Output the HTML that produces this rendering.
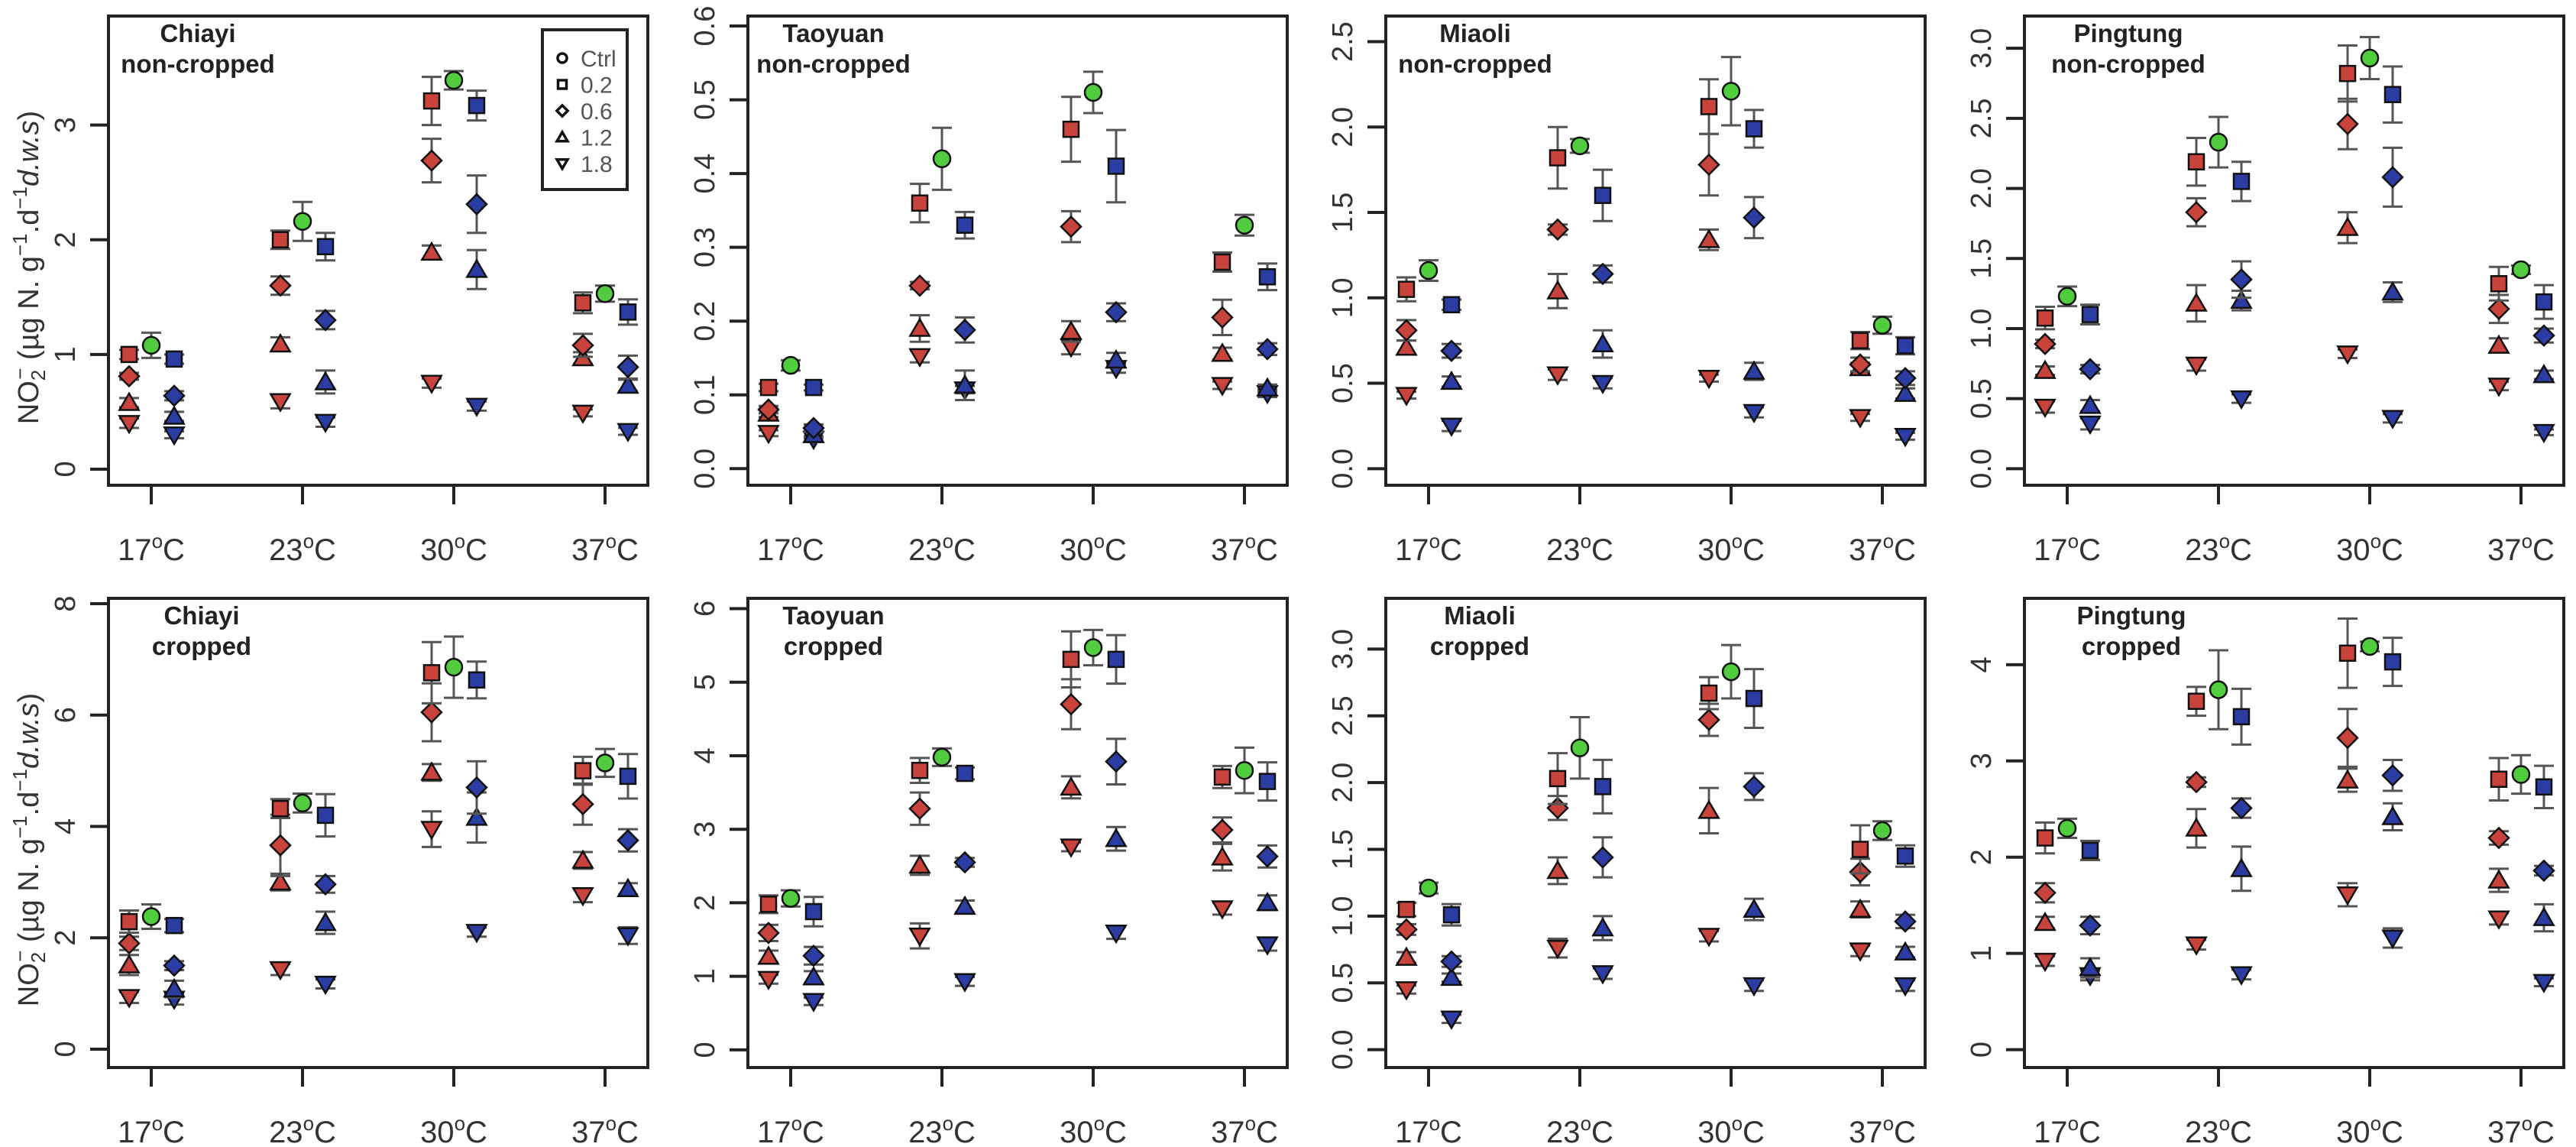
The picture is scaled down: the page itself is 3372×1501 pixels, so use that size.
<!DOCTYPE html>
<html><head><meta charset="utf-8"><title>NO2- production by temperature</title>
<style>
html,body{margin:0;padding:0;background:#fff;}
svg{display:block;font-family:"Liberation Sans",Arial,sans-serif;}
</style></head>
<body>
<svg id="fig" width="3372" height="1501" viewBox="0 0 3372 1501" xmlns="http://www.w3.org/2000/svg"></svg>
<script>
// ---------- data ----------
const temps = ["17", "23", "30", "37"];
const doses = ["0.2", "0.6", "1.2", "1.8"];
const legendLabels = ["Ctrl", "0.2", "0.6", "1.2", "1.8"];
const panelNames = ["chiayi-non-cropped","taoyuan-non-cropped","miaoli-non-cropped","pingtung-non-cropped","chiayi-cropped","taoyuan-cropped","miaoli-cropped","pingtung-cropped"];
const titleLine1 = ["Chiayi","Taoyuan","Miaoli","Pingtung","Chiayi","Taoyuan","Miaoli","Pingtung"];
const titleLine2 = ["non-cropped","non-cropped","non-cropped","non-cropped","cropped","cropped","cropped","cropped"];
const yTicks = [
  ["0","1","2","3"],
  ["0.0","0.1","0.2","0.3","0.4","0.5","0.6"],
  ["0.0","0.5","1.0","1.5","2.0","2.5"],
  ["0.0","0.5","1.0","1.5","2.0","2.5","3.0"],
  ["0","2","4","6","8"],
  ["0","1","2","3","4","5","6"],
  ["0.0","0.5","1.0","1.5","2.0","2.5","3.0"],
  ["0","1","2","3","4"]
];
const yMin = [-0.14, -0.0225, -0.097, -0.118, -0.33, -0.24, -0.134, -0.186];
const yMax = [3.95, 0.6135, 2.65, 3.23, 8.096, 6.14, 3.38, 4.69];

// panel 1 Chiayi non-cropped
const p1Ctrl = [1.08,2.16,3.39,1.53];
const p1CtrlErr = [0.11,0.17,0.08,0.07];
const p1Red = [[1.0,2.0,3.21,1.45],[0.81,1.6,2.69,1.08],[0.58,1.09,1.89,0.97],[0.40,0.59,0.75,0.49]];
const p1RedErr = [[0.04,0.08,0.21,0.09],[0.03,0.08,0.19,0.1],[0.04,0.06,0.06,0.05],[0.04,0.06,0.04,0.03]];
const p1Blue = [[0.96,1.94,3.17,1.37],[0.64,1.3,2.31,0.89],[0.46,0.76,1.74,0.73],[0.30,0.41,0.55,0.33]];
const p1BlueErr = [[0.04,0.12,0.13,0.11],[0.04,0.08,0.25,0.1],[0.04,0.1,0.17,0.05],[0.03,0.04,0.04,0.03]];
// panel 2 Taoyuan non-cropped
const p2Ctrl = [0.14,0.42,0.51,0.33];
const p2CtrlErr = [0.007,0.042,0.028,0.014];
const p2Red = [[0.11,0.36,0.46,0.28],[0.08,0.248,0.328,0.205],[0.075,0.19,0.186,0.156],[0.048,0.152,0.165,0.113]];
const p2RedErr = [[0.005,0.026,0.044,0.013],[0.005,0.005,0.021,0.024],[0.005,0.018,0.014,0.008],[0.004,0.008,0.01,0.005]];
const p2Blue = [[0.11,0.33,0.41,0.26],[0.055,0.188,0.212,0.162],[0.046,0.113,0.147,0.109],[0.04,0.107,0.136,0.102]];
const p2BlueErr = [[0.004,0.018,0.049,0.018],[0.005,0.017,0.012,0.008],[0.005,0.02,0.01,0.005],[0.004,0.005,0.006,0.005]];
// panel 3 Miaoli non-cropped
const p3Ctrl = [1.16,1.89,2.21,0.84];
const p3CtrlErr = [0.06,0.04,0.2,0.05];
const p3Red = [[1.05,1.82,2.12,0.75],[0.81,1.40,1.78,0.61],[0.71,1.04,1.34,0.59],[0.43,0.55,0.53,0.3]];
const p3RedErr = [[0.07,0.18,0.16,0.05],[0.06,0.03,0.18,0.04],[0.04,0.1,0.06,0.03],[0.02,0.03,0.02,0.02]];
const p3Blue = [[0.96,1.6,1.99,0.72],[0.69,1.14,1.47,0.53],[0.51,0.73,0.57,0.44],[0.25,0.5,0.33,0.19]];
const p3BlueErr = [[0.03,0.15,0.11,0.05],[0.04,0.05,0.12,0.04],[0.03,0.08,0.05,0.03],[0.03,0.03,0.03,0.02]];
// panel 4 Pingtung non-cropped
const p4Ctrl = [1.23,2.33,2.93,1.42];
const p4CtrlErr = [0.07,0.18,0.15,0.03];
const p4Red = [[1.075,2.19,2.82,1.32],[0.89,1.83,2.46,1.14],[0.70,1.18,1.72,0.88],[0.44,0.74,0.82,0.59]];
const p4RedErr = [[0.08,0.17,0.2,0.12],[0.03,0.1,0.18,0.1],[0.03,0.13,0.11,0.05],[0.04,0.04,0.03,0.03]];
const p4Blue = [[1.1,2.05,2.67,1.19],[0.71,1.35,2.08,0.95],[0.45,1.2,1.26,0.67],[0.32,0.5,0.36,0.26]];
const p4BlueErr = [[0.07,0.14,0.2,0.12],[0.03,0.13,0.21,0.05],[0.04,0.07,0.07,0.03],[0.04,0.03,0.03,0.02]];
// panel 5 Chiayi cropped
const p5Ctrl = [2.38,4.42,6.86,5.14];
const p5CtrlErr = [0.22,0.17,0.55,0.25];
const p5Red = [[2.29,4.32,6.76,5.0],[1.9,3.66,6.05,4.4],[1.51,3.0,4.97,3.39],[0.93,1.43,3.95,2.76]];
const p5RedErr = [[0.2,0.17,0.55,0.25],[0.12,0.55,0.52,0.37],[0.18,0.15,0.15,0.15],[0.1,0.1,0.32,0.12]];
const p5Blue = [[2.22,4.2,6.63,4.9],[1.5,2.96,4.7,3.75],[1.08,2.27,4.16,2.88],[0.9,1.17,2.1,2.04]];
const p5BlueErr = [[0.12,0.38,0.33,0.4],[0.08,0.15,0.47,0.2],[0.15,0.2,0.45,0.1],[0.1,0.08,0.08,0.15]];
// panel 6 Taoyuan cropped
const p6Ctrl = [2.06,3.98,5.47,3.8];
const p6CtrlErr = [0.11,0.12,0.24,0.31];
const p6Red = [[1.98,3.8,5.31,3.71],[1.59,3.28,4.7,2.99],[1.27,2.51,3.57,2.62],[0.96,1.55,2.76,1.92]];
const p6RedErr = [[0.12,0.17,0.38,0.15],[0.11,0.22,0.34,0.17],[0.08,0.13,0.15,0.18],[0.06,0.17,0.06,0.08]];
const p6Blue = [[1.88,3.76,5.31,3.65],[1.28,2.55,3.92,2.63],[0.99,1.95,2.87,2.0],[0.66,0.93,1.59,1.43]];
const p6BlueErr = [[0.2,0.08,0.33,0.26],[0.12,0.06,0.31,0.15],[0.08,0.08,0.16,0.1],[0.05,0.06,0.08,0.08]];
// panel 7 Miaoli cropped
const p7Ctrl = [1.21,2.26,2.83,1.64];
const p7CtrlErr = [0.04,0.23,0.2,0.07];
const p7Red = [[1.05,2.03,2.67,1.5],[0.9,1.81,2.47,1.33],[0.69,1.34,1.79,1.05],[0.45,0.76,0.85,0.74]];
const p7RedErr = [[0.05,0.19,0.12,0.18],[0.04,0.09,0.12,0.1],[0.04,0.1,0.17,0.06],[0.03,0.07,0.04,0.04]];
const p7Blue = [[1.01,1.97,2.63,1.45],[0.66,1.44,1.97,0.96],[0.54,0.91,1.05,0.73],[0.23,0.57,0.48,0.48]];
const p7BlueErr = [[0.08,0.2,0.22,0.08],[0.04,0.15,0.1,0.05],[0.03,0.09,0.08,0.04],[0.03,0.04,0.04,0.04]];
// panel 8 Pingtung cropped
const p8Ctrl = [2.3,3.74,4.19,2.86];
const p8CtrlErr = [0.1,0.41,0.05,0.2];
const p8Red = [[2.2,3.62,4.12,2.81],[1.63,2.78,3.24,2.2],[1.32,2.3,2.8,1.76],[0.92,1.09,1.61,1.36]];
const p8RedErr = [[0.16,0.15,0.36,0.22],[0.1,0.05,0.3,0.07],[0.06,0.2,0.12,0.12],[0.05,0.05,0.12,0.06]];
const p8Blue = [[2.07,3.46,4.03,2.73],[1.29,2.51,2.85,1.86],[0.85,1.88,2.42,1.37],[0.77,0.78,1.16,0.7]];
const p8BlueErr = [[0.1,0.29,0.25,0.22],[0.09,0.1,0.16,0.05],[0.1,0.23,0.14,0.14],[0.05,0.05,0.1,0.04]];

const ctrlSeries = [p1Ctrl,p2Ctrl,p3Ctrl,p4Ctrl,p5Ctrl,p6Ctrl,p7Ctrl,p8Ctrl];
const ctrlErrSeries = [p1CtrlErr,p2CtrlErr,p3CtrlErr,p4CtrlErr,p5CtrlErr,p6CtrlErr,p7CtrlErr,p8CtrlErr];
const redSeries = [p1Red,p2Red,p3Red,p4Red,p5Red,p6Red,p7Red,p8Red];
const redErrSeries = [p1RedErr,p2RedErr,p3RedErr,p4RedErr,p5RedErr,p6RedErr,p7RedErr,p8RedErr];
const blueSeries = [p1Blue,p2Blue,p3Blue,p4Blue,p5Blue,p6Blue,p7Blue,p8Blue];
const blueErrSeries = [p1BlueErr,p2BlueErr,p3BlueErr,p4BlueErr,p5BlueErr,p6BlueErr,p7BlueErr,p8BlueErr];

// ---------- layout ----------
const NS = "http://www.w3.org/2000/svg";
const svg = document.getElementById("fig");
const panelLeft = [142, 979, 1814, 2650];
const panelTop = [21, 783];
const PW = 706, PH = 614;
const titleCx = [117, 112, 117, 136, 122, 112, 123, 140];
const RED = "#c8433b", BLUE = "#2b3da3", GREEN = "#52cc3f", ERR = "#555555", TXT = "#333333";

function mk(tag, attrs, parent) {
  const e = document.createElementNS(NS, tag);
  for (const k in attrs) e.setAttribute(k, attrs[k]);
  (parent || svg).appendChild(e);
  return e;
}

function marker(g, shape, cx, cy, fill, sw, scale) {
  const s = scale || 1;
  let el;
  if (shape === "circle") {
    el = mk("circle", {cx: cx, cy: cy, r: 11 * s, fill: fill, stroke: "#111", "stroke-width": sw}, g);
  } else if (shape === "square") {
    const h = 10 * s;
    el = mk("rect", {x: cx - h, y: cy - h, width: 2 * h, height: 2 * h, fill: fill, stroke: "#111", "stroke-width": sw}, g);
  } else if (shape === "diamond") {
    const h = 13 * s;
    el = mk("polygon", {points: `${cx},${cy-h} ${cx+h},${cy} ${cx},${cy+h} ${cx-h},${cy}`, fill: fill, stroke: "#111", "stroke-width": sw}, g);
  } else if (shape === "up") {
    const h = 12 * s;
    el = mk("polygon", {points: `${cx},${cy-h} ${cx+h*1.05},${cy+h*0.8} ${cx-h*1.05},${cy+h*0.8}`, fill: fill, stroke: "#111", "stroke-width": sw}, g);
  } else {
    const h = 12 * s;
    el = mk("polygon", {points: `${cx},${cy+h} ${cx+h*1.05},${cy-h*0.8} ${cx-h*1.05},${cy-h*0.8}`, fill: fill, stroke: "#111", "stroke-width": sw}, g);
  }
  return el;
}
const doseShapes = ["square", "diamond", "up", "down"];

for (let p = 0; p < 8; p++) {
  const col = p % 4, row = Math.floor(p / 4);
  const L = panelLeft[col], T = panelTop[row];
  const ymin = yMin[p], ymax = yMax[p];
  const yScale = v => T + PH - (v - ymin) / (ymax - ymin) * PH;
  const xGroup = i => L + 56 + i * 198;

  const g = mk("g", {});
  
  

  const frame = mk("rect", {x: L, y: T, width: PW, height: PH, fill: "none", stroke: "#222", "stroke-width": 4}, g);
  
  

  const yg = mk("g", {}, g);
  
  
  yTicks[p].forEach(t => {
    const y = yScale(parseFloat(t));
    mk("line", {x1: L - 24, x2: L, y1: y, y2: y, stroke: "#222", "stroke-width": 4}, yg);
    const tx = mk("text", {x: L - 44, y: y, transform: `rotate(-90 ${L-44} ${y})`, "text-anchor": "middle", "font-size": 38, fill: TXT}, yg);
    tx.textContent = t;
    
    
  });

  const xg = mk("g", {}, g);
  
  
  temps.forEach((t, i) => {
    const x = xGroup(i);
    mk("line", {x1: x, x2: x, y1: T + PH, y2: T + PH + 25, stroke: "#222", "stroke-width": 4}, xg);
    const tx = mk("text", {x: x, y: T + PH + 98, "text-anchor": "middle", "font-size": 40, fill: TXT}, xg);
    
    
    const a = mk("tspan", {}, tx); a.textContent = t;
    const b = mk("tspan", {"font-size": 26, dy: -16}, tx); b.textContent = "o";
    const c = mk("tspan", {dy: 16}, tx); c.textContent = "C";
  });

  const tg = mk("text", {x: L + titleCx[p], y: T + 34, "text-anchor": "middle", "font-size": 33, "font-weight": "bold", fill: "#222"}, g);
  
  
  const l1 = mk("tspan", {x: L + titleCx[p], y: T + 34}, tg); l1.textContent = titleLine1[p];
  const l2 = mk("tspan", {x: L + titleCx[p], y: T + 74}, tg); l2.textContent = titleLine2[p];

  const sg = mk("g", {}, g);
  
  
  function drawPoint(x, v, e, shape, fill, name) {
    const y = yScale(v), yt = yScale(v + e), yb = yScale(v - e);
    const eb = mk("g", {}, sg);
    
    
    mk("line", {x1: x, x2: x, y1: yt, y2: yb, stroke: ERR, "stroke-width": 3}, eb);
    mk("line", {x1: x - 13, x2: x + 13, y1: yt, y2: yt, stroke: ERR, "stroke-width": 3}, eb);
    mk("line", {x1: x - 13, x2: x + 13, y1: yb, y2: yb, stroke: ERR, "stroke-width": 3}, eb);
    const m = marker(sg, shape, x, y, fill, 2.5);
    
    
  }
  for (let i = 0; i < 4; i++) {
    for (let d = 3; d >= 0; d--) {
      drawPoint(xGroup(i) - 29, redSeries[p][d][i], redErrSeries[p][d][i], doseShapes[d], RED, 'red-point-' + doses[d] + '-' + temps[i]);
      drawPoint(xGroup(i) + 30, blueSeries[p][d][i], blueErrSeries[p][d][i], doseShapes[d], BLUE, 'blue-point-' + doses[d] + '-' + temps[i]);
    }
    drawPoint(xGroup(i), ctrlSeries[p][i], ctrlErrSeries[p][i], "circle", GREEN, 'ctrl-point-' + temps[i]);
  }

  if (col === 0) {
    const cy = T + PH / 2 + 22;
    const yt = mk("text", {x: 50, y: cy, transform: `rotate(-90 50 ${cy})`, "text-anchor": "middle", "font-size": 38, fill: TXT}, g);
    
    
    const parts = [["NO",{}],["2",{"font-size":26,dy:9}],["\u2212",{"font-size":26,dy:-24,dx:-13}],["  (\u00b5g N. g",{dy:15}],["\u22121",{"font-size":26,dy:-15}],[".d",{dy:15}],["\u22121",{"font-size":26,dy:-15}],["d.w.s",{dy:15,"font-style":"italic"}],[")",{}]];
    parts.forEach(([txt, at]) => { const s = mk("tspan", at, yt); s.textContent = txt; });
  }
}

const lg = mk("g", {});


mk("rect", {x: 710, y: 39, width: 111, height: 209, fill: "#fff", stroke: "#222", "stroke-width": 4}, lg);
const legShapes = ["circle", "square", "diamond", "up", "down"];
legendLabels.forEach((lab, k) => {
  const y = 76 + k * 34.5;
  const en = mk("g", {}, lg);
  
  
  marker(en, legShapes[k], 736, y, "none", 3.5, 0.55);
  const t = mk("text", {x: 760, y: y + 11, "font-size": 30, fill: "#555"}, en);
  t.textContent = lab;
});
</script>
</body></html>
